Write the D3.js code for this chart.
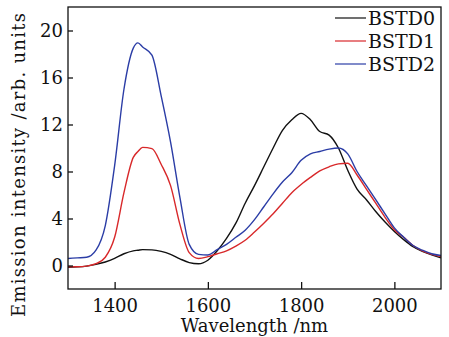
<!DOCTYPE html>
<html>
<head>
<meta charset="utf-8">
<script src="https://cdn.jsdelivr.net/npm/d3@7"></script>
<style>
  body { margin: 0; background: #fff; }
  text { font-family: "DejaVu Serif", serif; fill: #111; }
</style>
</head>
<body>
<script>
// wavelength grid (nm)
var wavelengths = [1300,1320,1340,1360,1380,1400,1420,1440,1450,1460,1480,1500,1520,1540,1560,1580,1600,
  1620,1640,1660,1680,1700,1720,1740,1760,1780,1800,1820,1840,1860,1880,1900,1920,1940,1960,1980,
  2000,2020,2040,2060,2080,2100];

var bstd0 = [-0.15,-0.12,-0.05,0.1,0.3,0.6,1.0,1.25,1.3,1.35,1.33,1.2,0.95,0.57,0.25,0.15,0.45,
  1.25,2.3,3.6,5.3,6.8,8.4,10.0,11.5,12.4,12.95,12.4,11.4,11.1,10.0,8.1,6.5,5.6,4.6,3.7,
  2.9,2.2,1.6,1.2,0.9,0.65];

var bstd1 = [-0.1,-0.1,-0.05,0.15,0.7,2.4,6.2,9.2,9.7,10.05,9.95,8.6,6.8,3.5,1.1,0.6,0.75,
  1.0,1.25,1.65,2.15,2.85,3.6,4.4,5.3,6.2,6.9,7.5,8.05,8.4,8.65,8.7,7.7,6.5,5.3,4.1,
  3.05,2.4,1.7,1.25,0.95,0.75];

var bstd2 = [0.6,0.65,0.7,1.3,3.4,8.5,15.0,18.5,18.95,18.6,17.9,14.4,10.5,5.8,1.8,0.95,0.9,
  1.35,1.8,2.4,3.0,3.9,5.0,6.1,7.1,7.9,8.95,9.5,9.7,9.9,10.0,9.5,8.0,6.8,5.6,4.4,
  3.2,2.4,1.7,1.3,1.0,0.85];

var seriesNames = ["BSTD0", "BSTD1", "BSTD2"];
var seriesColors = ["#111111", "#d8282a", "#2b3da6"];
var xTicks = [1400, 1600, 1800, 2000];
var yTicks = [0, 4, 8, 12, 16, 20];

var W = 449, H = 337;
var plotL = 68, plotT = 7, plotR = 441, plotB = 289;

var svg = d3.select("body").append("svg")
  .attr("width", W)
  .attr("height", H);

var x = d3.scaleLinear().domain([1300, 2100]).range([plotL, plotR]);
var y = d3.scaleLinear().domain([-2, 22]).range([plotB, plotT]);

svg.append("clipPath").attr("id", "plotclip")
  .append("rect")
  .attr("x", plotL).attr("y", plotT)
  .attr("width", plotR - plotL).attr("height", plotB - plotT);

// curves
var line = d3.line()
  .x(function(d) { return x(d[0]); })
  .y(function(d) { return y(d[1]); })
  .curve(d3.curveMonotoneX);

var allSeries = [bstd0, bstd1, bstd2];
svg.append("g").attr("clip-path", "url(#plotclip)")
  .selectAll("path")
  .data(allSeries)
  .enter().append("path")
  .attr("fill", "none")
  .attr("stroke", function(d, i) { return seriesColors[i]; })
  .attr("stroke-width", 1.4)
  .attr("d", function(vals) {
    return line(wavelengths.map(function(w, i) { return [w, vals[i]]; }));
  });

// axes with inward ticks
var xAxis = svg.append("g")
  .attr("transform", "translate(0," + plotB + ")")
  .call(d3.axisBottom(x).tickValues(xTicks).tickFormat(d3.format("d")).tickSize(-7).tickPadding(10));
var yAxis = svg.append("g")
  .attr("transform", "translate(" + plotL + ",0)")
  .call(d3.axisLeft(y).tickValues(yTicks).tickFormat(d3.format("d")).tickSize(-5).tickPadding(5));

[xAxis, yAxis].forEach(function(g) {
  g.select(".domain").remove();
  g.selectAll("line").attr("stroke", "#111").attr("stroke-width", 1.3);
  g.selectAll("text")
    .style("font-family", "DejaVu Serif, serif")
    .style("font-size", "18px")
    .attr("fill", "#111");
});

// frame
svg.append("rect")
  .attr("x", plotL).attr("y", plotT)
  .attr("width", plotR - plotL).attr("height", plotB - plotT)
  .attr("fill", "none")
  .attr("stroke", "#111")
  .attr("stroke-width", 1.3);

// axis titles
svg.append("text")
  .attr("x", (plotL + plotR) / 2)
  .attr("y", 332)
  .attr("text-anchor", "middle")
  .style("font-size", "18px")
  .text("Wavelength /nm");

svg.append("text")
  .attr("transform", "translate(25,165) rotate(-90)")
  .attr("text-anchor", "middle")
  .attr("textLength", 304)
  .attr("lengthAdjust", "spacing")
  .style("font-size", "18px")
  .text("Emission intensity /arb. units");

// legend
var legend = svg.append("g");
seriesNames.forEach(function(name, i) {
  var ly = 18 + i * 23;
  legend.append("line")
    .attr("x1", 335).attr("x2", 366)
    .attr("y1", ly).attr("y2", ly)
    .attr("stroke", seriesColors[i])
    .attr("stroke-width", 1.2);
  legend.append("text")
    .attr("x", 368)
    .attr("y", ly + 7)
    .style("font-size", "19px")
    .text(name);
});
</script>
</body>
</html>
